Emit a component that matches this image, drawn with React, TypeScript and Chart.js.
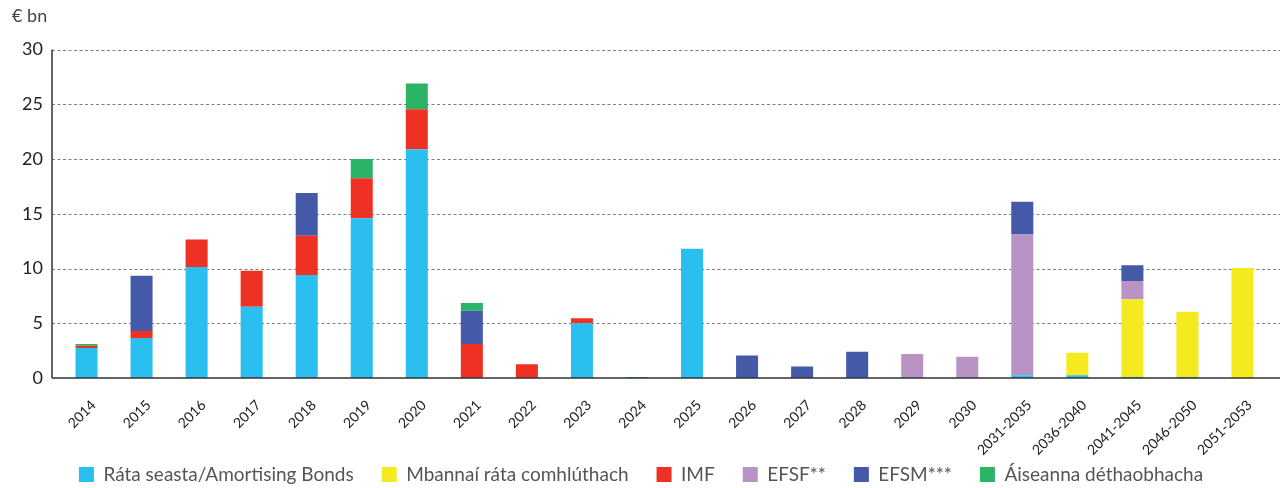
import React, { useEffect, useRef } from "react";
import { Chart, registerables } from "chart.js";

Chart.register(...registerables);

const categories = [
  "2014", "2015", "2016", "2017", "2018", "2019", "2020", "2021", "2022", "2023",
  "2024", "2025", "2026", "2027", "2028", "2029", "2030",
  "2031-2035", "2036-2040", "2041-2045", "2046-2050", "2051-2053",
];

const amortisingBonds = [2.75, 3.65, 10.15, 6.5, 9.4, 14.6, 20.9, null, null, 5.0, 0.1, 11.8, null, null, null, null, null, 0.25, 0.25, 0.1, 0.1, null];
const floatingRateBonds = [null, null, null, null, null, null, null, null, null, null, null, null, null, null, null, null, null, null, 2.05, 7.1, 5.95, 10.05];
const imf = [0.2, 0.65, 2.5, 3.3, 3.6, 3.65, 3.65, 3.1, 1.25, 0.45, null, null, null, null, null, null, null, null, null, null, null, null];
const efsf = [null, null, null, null, null, null, null, null, null, null, null, null, null, null, null, 2.2, 1.95, 12.85, null, 1.65, null, null];
const efsm = [null, 5.05, null, null, 3.9, null, null, 3.05, null, null, null, null, 2.05, 1.05, 2.4, null, null, 3.0, null, 1.45, null, null];
const bilateral = [0.15, null, null, null, null, 1.75, 2.35, 0.7, null, null, null, null, null, null, null, null, null, null, null, null, null, null];

const seriesNames = [
  "Ráta seasta/Amortising Bonds",
  "Mbannaí ráta comhlúthach",
  "IMF",
  "EFSF**",
  "EFSM***",
  "Áiseanna déthaobhacha",
];
const seriesColors = ["#2bbfef", "#f4ea1f", "#ef3124", "#b993c4", "#4459a8", "#2bb466"];
const seriesValues = [amortisingBonds, floatingRateBonds, imf, efsf, efsm, bilateral];

const yTicks = [0, 5, 10, 15, 20, 25, 30];
const unitLabel = "€ bn";

const FONT = "Lato, 'Open Sans', sans-serif";

const axesPlugin = {
  id: "axesExt",
  beforeDatasetsDraw(chart: any) {
    const { ctx, chartArea, scales } = chart;
    const y = scales.y;
    const left = chartArea.left - 7;
    const right = chartArea.right + 10;
    ctx.save();
    ctx.strokeStyle = "#808080";
    ctx.lineWidth = 1;
    ctx.setLineDash([3, 2.5]);
    for (const v of yTicks) {
      if (v === 0) continue;
      const py = Math.round(y.getPixelForValue(v)) + 0.5;
      ctx.beginPath();
      ctx.moveTo(left, py);
      ctx.lineTo(right, py);
      ctx.stroke();
    }
    ctx.restore();
  },
  afterDatasetsDraw(chart: any) {
    const { ctx, chartArea, scales } = chart;
    const y = scales.y;
    const left = chartArea.left - 7;
    const right = chartArea.right + 10;
    const top = y.getPixelForValue(30);
    const bottom = y.getPixelForValue(0);
    ctx.save();
    ctx.strokeStyle = "#333";
    ctx.lineWidth = 1.5;
    ctx.beginPath();
    ctx.moveTo(left, top);
    ctx.lineTo(left, bottom);
    ctx.moveTo(left, bottom);
    ctx.lineTo(right, bottom);
    ctx.stroke();
    ctx.restore();
  },
};

export default function App() {
  const canvasRef = useRef<HTMLCanvasElement | null>(null);

  useEffect(() => {
    document.body.style.margin = "0";
    const canvas = canvasRef.current;
    if (!canvas) return;
    const chart = new Chart(canvas, {
      type: "bar",
      data: {
        labels: categories,
        datasets: seriesValues.map((vals, i) => ({
          label: seriesNames[i],
          data: vals,
          backgroundColor: seriesColors[i],
          borderWidth: 0,
          barPercentage: 0.4,
          categoryPercentage: 1,
        })),
      },
      options: {
        animation: false,
        responsive: false,
        devicePixelRatio: 1,
        layout: { padding: { left: 12, right: 13, top: 0, bottom: -6 } },
        scales: {
          x: {
            stacked: true,
            grid: { display: false },
            border: { display: false },
            afterFit: (s: any) => {
              s.height = 59;
              s._computeLabelArea = () => undefined;
            },
            ticks: {
              maxRotation: 45,
              minRotation: 45,
              autoSkip: false,
              color: "#222",
              padding: 11,
              labelOffset: 7,
              font: { family: FONT, size: 14 },
            },
          },
          y: {
            stacked: true,
            min: 0,
            max: 30,
            grid: { display: false, drawTicks: false },
            border: { display: false },
            afterFit: (s: any) => {
              s.width = 47;
            },
            afterBuildTicks: (s: any) => {
              s.ticks = yTicks.map((v) => ({ value: v }));
            },
            ticks: {
              color: "#222",
              padding: 16,
              font: { family: FONT, size: 18 },
            },
          },
        },
        plugins: {
          title: {
            display: true,
            text: unitLabel,
            align: "start",
            color: "#444",
            font: { family: FONT, size: 18, weight: "normal" },
            padding: { top: 5, bottom: 23 },
          },
          legend: {
            position: "bottom",
            labels: {
              boxWidth: 15,
              boxHeight: 15,
              padding: 28,
              color: "#555",
              font: { family: FONT, size: 19 },
            },
          },
          tooltip: { enabled: false },
        },
      },
      plugins: [axesPlugin],
    });
    return () => chart.destroy();
  }, []);

  return (
    <div style={{ width: 1283, height: 488 }}>
      <canvas ref={canvasRef} width={1283} height={488} style={{ display: "block" }} />
    </div>
  );
}
